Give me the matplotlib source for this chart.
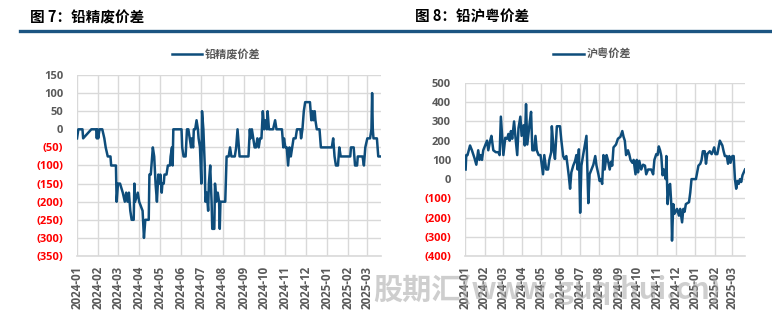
import matplotlib
matplotlib.use("Agg")
import matplotlib.pyplot as plt
import matplotlib.dates as mdates
from matplotlib.lines import Line2D
import pandas as pd

plt.rcParams['font.family'] = ['Noto Sans CJK SC', 'DejaVu Sans']

# 铅精废价差 (left panel)
jf_dates = [
    "2024-01-01", "2024-01-03", "2024-01-09", "2024-01-10", "2024-01-22", "2024-01-29", "2024-01-30", "2024-01-31",
    "2024-02-01", "2024-02-03", "2024-02-07", "2024-02-10", "2024-02-12", "2024-02-15", "2024-02-19", "2024-02-20", "2024-02-27", "2024-02-28",
    "2024-03-01", "2024-03-04", "2024-03-08", "2024-03-11", "2024-03-13", "2024-03-15", "2024-03-17", "2024-03-19", "2024-03-21", "2024-03-24", "2024-03-25", "2024-03-26", "2024-03-30",
    "2024-04-01", "2024-04-06", "2024-04-08", "2024-04-10", "2024-04-15", "2024-04-16", "2024-04-18", "2024-04-19", "2024-04-21", "2024-04-23", "2024-04-25", "2024-04-27", "2024-04-29",
    "2024-05-01", "2024-05-02", "2024-05-04", "2024-05-05", "2024-05-07", "2024-05-08", "2024-05-11", "2024-05-13", "2024-05-16", "2024-05-17", "2024-05-19", "2024-05-20", "2024-05-21", "2024-05-30",
    "2024-06-02", "2024-06-03", "2024-06-05", "2024-06-08", "2024-06-10", "2024-06-12", "2024-06-14", "2024-06-16", "2024-06-17", "2024-06-19", "2024-06-20", "2024-06-22", "2024-06-24", "2024-06-26", "2024-06-27", "2024-06-29",
    "2024-07-01", "2024-07-02", "2024-07-04", "2024-07-06", "2024-07-07", "2024-07-09", "2024-07-11", "2024-07-12", "2024-07-14", "2024-07-16", "2024-07-17", "2024-07-20", "2024-07-21", "2024-07-23", "2024-07-25", "2024-07-27", "2024-07-28", "2024-07-29",
    "2024-08-05", "2024-08-07", "2024-08-10", "2024-08-12", "2024-08-14", "2024-08-19", "2024-08-21", "2024-08-23", "2024-08-25", "2024-08-26",
    "2024-09-08", "2024-09-10", "2024-09-11", "2024-09-13", "2024-09-15", "2024-09-17", "2024-09-19", "2024-09-21", "2024-09-23", "2024-09-25", "2024-09-27", "2024-09-29",
    "2024-10-01", "2024-10-03", "2024-10-05", "2024-10-06", "2024-10-08", "2024-10-14", "2024-10-17", "2024-10-19", "2024-10-27", "2024-10-29", "2024-10-30",
    "2024-11-01", "2024-11-03", "2024-11-05", "2024-11-07", "2024-11-09", "2024-11-11", "2024-11-13", "2024-11-16", "2024-11-18", "2024-11-23", "2024-11-24", "2024-11-26", "2024-11-28", "2024-11-30",
    "2024-12-07", "2024-12-09", "2024-12-11", "2024-12-12", "2024-12-14", "2024-12-15", "2024-12-17", "2024-12-21", "2024-12-23",
    "2025-01-08", "2025-01-10", "2025-01-12", "2025-01-14", "2025-01-17", "2025-01-19", "2025-01-21",
    "2025-02-04", "2025-02-05", "2025-02-09", "2025-02-11", "2025-02-14", "2025-02-15", "2025-02-22", "2025-02-24", "2025-02-26",
    "2025-03-01", "2025-03-05", "2025-03-07", "2025-03-08", "2025-03-09", "2025-03-10", "2025-03-15", "2025-03-17", "2025-03-21",
]
jf_values = [
    -25, 0, 0, -25, 0, 0, -25, 0,
    -25, 0, 0, -25, -50, -75, -75, -100, -100, -200,
    -150, -150, -175, -200, -175, -200, -175, -225, -250, -250, -150, -200, -175,
    -200, -225, -300, -250, -250, -125, -125, -100, -50, -75, -150, -200, -125,
    -150, -125, -175, -150, -150, -125, -125, -100, -100, -75, -50, -100, 0, 0,
    0, -50, -75, -75, 0, 0, -25, -50, -25, -50, 0, 0, 25, 0, -25, -50,
    -150, 50, 0, -100, -200, -175, -225, -150, -100, -200, -275, -275, -150, -200, -175, -200, -275, -200,
    -200, -75, -75, -50, -75, -75, -50, 0, -50, -75,
    -75, 0, -25, 0, -25, -50, -50, -25, -50, -25, -25, 50,
    0, 25, 0, 50, 0, 0, 25, 0, 0, -50, -25,
    -50, -50, -100, -50, -75, -50, -25, -25, 0, 0, -25, 0, 50, 75,
    75, 25, 50, 25, 50, 25, 0, 0, -50,
    -50, -25, -75, -100, -100, -50, -75,
    -75, -50, -50, -100, -100, -75, -75, -100, -50,
    -25, -25, 0, 100, 0, -25, -25, -75, -75,
]

# 沪粤价差 (right panel)
hy_dates = [
    "2024-01-02", "2024-01-03", "2024-01-05", "2024-01-09", "2024-01-12", "2024-01-16", "2024-01-19", "2024-01-22", "2024-01-24", "2024-01-26", "2024-01-28", "2024-01-30",
    "2024-02-02", "2024-02-05", "2024-02-07", "2024-02-10", "2024-02-12", "2024-02-15", "2024-02-19", "2024-02-23", "2024-02-25", "2024-02-27", "2024-02-29",
    "2024-03-02", "2024-03-05", "2024-03-08", "2024-03-10", "2024-03-12", "2024-03-14", "2024-03-16", "2024-03-19", "2024-03-21", "2024-03-24", "2024-03-26", "2024-03-29", "2024-03-31",
    "2024-04-03", "2024-04-05", "2024-04-07", "2024-04-09", "2024-04-13", "2024-04-15", "2024-04-17", "2024-04-20", "2024-04-22", "2024-04-24", "2024-04-27", "2024-04-30",
    "2024-05-02", "2024-05-04", "2024-05-06", "2024-05-09", "2024-05-12", "2024-05-14", "2024-05-17", "2024-05-18", "2024-05-21", "2024-05-23", "2024-05-26", "2024-05-31",
    "2024-06-02", "2024-06-05", "2024-06-07", "2024-06-10", "2024-06-12", "2024-06-14", "2024-06-16", "2024-06-18", "2024-06-21", "2024-06-24", "2024-06-26", "2024-06-28", "2024-06-30",
    "2024-07-02", "2024-07-04", "2024-07-07", "2024-07-12", "2024-07-15", "2024-07-17", "2024-07-20", "2024-07-23", "2024-07-26", "2024-07-28", "2024-07-31",
    "2024-08-02", "2024-08-04", "2024-08-06", "2024-08-08", "2024-08-10", "2024-08-13", "2024-08-15", "2024-08-18", "2024-08-20", "2024-08-22", "2024-08-24", "2024-08-28", "2024-08-31",
    "2024-09-04", "2024-09-07", "2024-09-09", "2024-09-11", "2024-09-13", "2024-09-16", "2024-09-18", "2024-09-20", "2024-09-23", "2024-09-25", "2024-09-28", "2024-09-30",
    "2024-10-02", "2024-10-04", "2024-10-07", "2024-10-10", "2024-10-13", "2024-10-15", "2024-10-18", "2024-10-23", "2024-10-26", "2024-10-28", "2024-10-31",
    "2024-11-02", "2024-11-04", "2024-11-06", "2024-11-08", "2024-11-10", "2024-11-12", "2024-11-15", "2024-11-16", "2024-11-18", "2024-11-20", "2024-11-22", "2024-11-24", "2024-11-25", "2024-11-27", "2024-11-29",
    "2024-12-03", "2024-12-06", "2024-12-08", "2024-12-11", "2024-12-13", "2024-12-15", "2024-12-17", "2024-12-22", "2024-12-24", "2024-12-26",
    "2025-01-02", "2025-01-06", "2025-01-09", "2025-01-11", "2025-01-13", "2025-01-16", "2025-01-18", "2025-01-20", "2025-01-24", "2025-01-27", "2025-01-29", "2025-01-31",
    "2025-02-02", "2025-02-05", "2025-02-07", "2025-02-09", "2025-02-13", "2025-02-15", "2025-02-17", "2025-02-20", "2025-02-22", "2025-02-24", "2025-02-26",
    "2025-03-01", "2025-03-03", "2025-03-05", "2025-03-07", "2025-03-09", "2025-03-11", "2025-03-13", "2025-03-15", "2025-03-17", "2025-03-21",
]
hy_values = [
    50, 125, 125, 175, 150, 110, 75, 150, 100, 125, 100, 150,
    175, 200, 150, 200, 225, 150, 140, 140, 125, 325, 225,
    125, 215, 210, 235, 200, 250, 210, 300, 225, 125, 265, 325, 225,
    280, 175, 390, 180, 300, 350, 150, 150, 225, 150, 125, 125,
    75, 25, 125, 50, 50, 100, 140, 275, 150, 105, 275, 275,
    205, 120, 105, 120, 70, 15, -50, 35, 70, 95, 125, 50, 155,
    -175, 70, 130, 225, -125, 25, 50, 75, 120, 70, 25,
    -10, 0, -25, 125, 50, 125, 100, 50, 90, 70, 165, 180, 210,
    220, 250, 220, 200, 125, 150, 130, 100, 85, 100, 25, 100,
    35, 95, 50, 75, 70, 25, 50, 50, 25, 100, 130,
    125, 170, 150, 120, 20, 50, 0, 120, -130, -35, -25, -140, -320, -130, -180,
    -155, -190, -155, -225, -155, -170, -130, -120, -70, 0,
    0, 70, 80, 100, 145, 145, 80, 130, 145, 130, 145, 165,
    130, 130, 165, 200, 175, 145, 120, 120, 80, 120, 85,
    120, 120, 0, -50, -10, -25, 0, -15, 20, 50,
]

LINE_C = "#0e4d7b"
GRID_C = "#d9d9d9"
TEXT_C = "#595959"


def fmt_num(v):
    v = int(round(v))
    return f"({abs(v)})" if v < 0 else str(v)


def style_axes(ax, yticks):
    ax.set_ylim(yticks[0], yticks[-1])
    ax.set_yticks(yticks)
    ax.set_yticklabels([fmt_num(t) for t in yticks])
    for lab, t in zip(ax.get_yticklabels(), yticks):
        lab.set_color("#ff0000" if t < 0 else TEXT_C)
        lab.set_fontweight("bold")
        lab.set_fontsize(8)
        lab.set_family(["Open Sans", "DejaVu Sans"])
    ax.set_xlim(pd.Timestamp("2024-01-01"), pd.Timestamp("2025-03-21"))
    ax.xaxis.set_major_locator(mdates.MonthLocator())
    ax.xaxis.set_major_formatter(mdates.DateFormatter("%Y-%m"))
    for lab in ax.get_xticklabels():
        lab.set_rotation(90)
        lab.set_color(TEXT_C)
        lab.set_fontweight("bold")
        lab.set_fontsize(8.3)
        lab.set_family(["Open Sans", "DejaVu Sans"])
    ax.grid(True, color=GRID_C, linewidth=1.0)
    ax.set_axisbelow(True)
    for s in ["top", "right", "left"]:
        ax.spines[s].set_visible(False)
    ax.spines["bottom"].set_color(GRID_C)
    ax.spines["bottom"].set_linewidth(1.2)
    ax.tick_params(axis="both", length=0)
    ax.tick_params(axis="y", pad=10)
    ax.tick_params(axis="x", pad=7)


fig = plt.figure(figsize=(7.72, 3.22), dpi=100)

ax1 = fig.add_axes([77 / 772, 1 - 256 / 322, (381 - 77) / 772, (256 - 75) / 322])
ax1.plot(pd.to_datetime(jf_dates), jf_values, color=LINE_C, linewidth=1.8)
style_axes(ax1, list(range(-350, 151, 50)))

ax2 = fig.add_axes([465 / 772, 1 - 256 / 322, (745 - 465) / 772, (256 - 83) / 322])
ax2.plot(pd.to_datetime(hy_dates), hy_values, color=LINE_C, linewidth=1.8)
style_axes(ax2, list(range(-400, 501, 100)))

# header titles and rule
fig.text(30 / 772, 1 - 17 / 322, "图 7：铅精废价差", fontsize=10.5, fontweight="bold",
         color="black", va="center", ha="left")
fig.text(415 / 772, 1 - 17 / 322, "图 8：铅沪粤价差", fontsize=10.5, fontweight="bold",
         color="black", va="center", ha="left")
fig.add_artist(Line2D([20 / 772, 1.0], [1 - 30.5 / 322] * 2, color="#1b5582", linewidth=2.4))

# legends
for x0, x1, label in [(172, 202, "铅精废价差"), (553, 584, "沪粤价差")]:
    fig.add_artist(Line2D([x0 / 772, x1 / 772], [1 - 54 / 322] * 2, color=LINE_C, linewidth=1.8))
    fig.text((x1 + 3) / 772, 1 - 54 / 322, label, fontsize=8, fontweight="bold",
             color=TEXT_C, va="center", ha="left")

# site watermark across the bottom
fig.text(373 / 772, 1 - 290 / 322, "股期汇(www.guqihui.cn)", fontsize=21, fontweight="bold",
         fontstyle="italic", color="#a6a6a6", alpha=0.55, va="center", ha="left", zorder=0)

fig.savefig("out.png", dpi=100)
